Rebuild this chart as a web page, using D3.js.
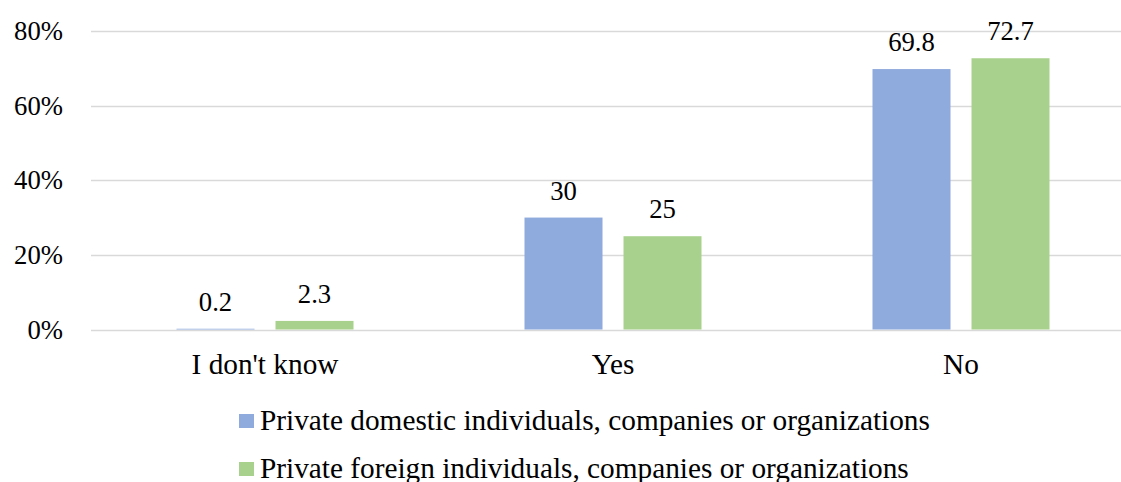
<!DOCTYPE html>
<html>
<head>
<meta charset="utf-8">
<script src="https://cdn.jsdelivr.net/npm/d3@7"></script>
<style>
  body { margin: 0; background: #fff; }
  text { font-family: "Liberation Serif", "Times New Roman", serif; fill: #000; }
</style>
</head>
<body>
<svg id="chart" width="1121" height="482"></svg>
<script>
// data
var categories = ["I don't know", "Yes", "No"];
var seriesNames = ["Private domestic individuals, companies or organizations",
                   "Private foreign individuals, companies or organizations"];
var domestic = [0.2, 30, 69.8];
var foreign = [2.3, 25, 72.7];
var yTicks = [0, 20, 40, 60, 80];
var colors = ["#8faadc", "#a9d18e"];

var svg = d3.select("#chart");
var smallFont = 26.7;   // tick labels, value labels
var bigFont = 29.3;     // category labels, legend

// plot area (runs slightly past the right edge, as in the original)
var x = d3.scaleBand()
    .domain(categories)
    .range([91, 1135]);

var y = d3.scaleLinear()
    .domain([0, 80])
    .range([329.5, 31]);

// gridlines
svg.append("g")
  .selectAll("line")
  .data(yTicks)
  .enter()
  .append("line")
    .attr("x1", 91)
    .attr("x2", 1121)
    .attr("y1", function(d) { return Math.round(y(d)) + 0.5; })
    .attr("y2", function(d) { return Math.round(y(d)) + 0.5; })
    .attr("stroke", "#d9d9d9")
    .attr("stroke-width", 1.5);

// y axis labels
var yAxis = d3.axisLeft(y)
    .tickValues(yTicks)
    .tickSize(0)
    .tickPadding(0)
    .tickFormat(function(d) { return d + "%"; });
var ya = svg.append("g")
    .attr("transform", "translate(63,0)")
    .call(yAxis);
ya.select(".domain").remove();
ya.attr("font-family", null);
ya.selectAll("text")
    .attr("font-size", smallFont)
    .attr("dy", "0.32em");

// x axis labels
var xAxis = d3.axisBottom(x).tickSize(0).tickPadding(0);
var xa = svg.append("g")
    .attr("transform", "translate(0,329.5)")
    .call(xAxis);
xa.select(".domain").remove();
xa.attr("font-family", null);
xa.selectAll("text")
    .attr("font-size", bigFont)
    .attr("dy", 0)
    .attr("y", 44.5);

// bars
var barW = 78, gap = 21;
var series = [domestic, foreign];

series.forEach(function(vals, si) {
  var g = svg.append("g");
  var offset = si == 0 ? -(gap / 2 + barW) : gap / 2;
  g.selectAll("rect")
    .data(vals)
    .enter()
    .append("rect")
      .attr("x", function(d, i) { return x(categories[i]) + x.bandwidth() / 2 + offset; })
      .attr("y", function(d) { return y(d); })
      .attr("width", barW)
      .attr("height", function(d) { return y(0) - y(d); })
      .attr("fill", colors[si]);

  g.selectAll("text")
    .data(vals)
    .enter()
    .append("text")
      .attr("x", function(d, i) { return x(categories[i]) + x.bandwidth() / 2 + offset + barW / 2; })
      .attr("y", function(d) { return y(d) - 18; })
      .attr("text-anchor", "middle")
      .attr("font-size", smallFont)
      .text(function(d) { return d; });
});

// legend
var legend = svg.append("g");
seriesNames.forEach(function(name, i) {
  var ly = 430 + i * 48;
  legend.append("rect")
    .attr("x", 239)
    .attr("y", ly - 16)
    .attr("width", 15)
    .attr("height", 14)
    .attr("fill", colors[i]);
  legend.append("text")
    .attr("x", 260)
    .attr("y", ly)
    .attr("font-size", bigFont)
    .text(name);
});
</script>
</body>
</html>
